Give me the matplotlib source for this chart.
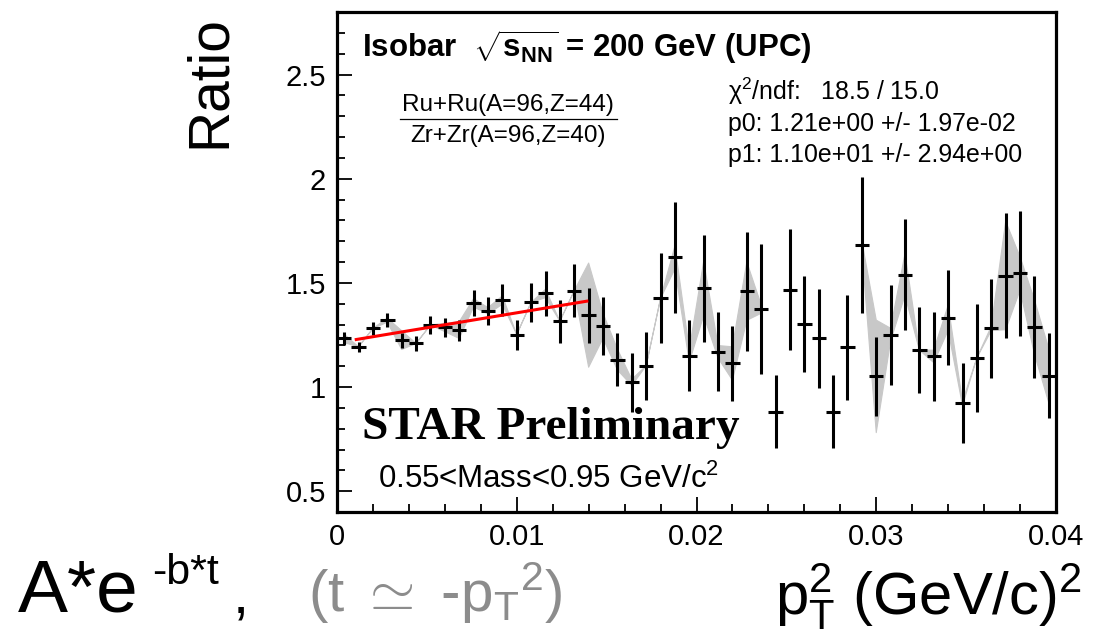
import numpy as np
import matplotlib
matplotlib.use("Agg")
import matplotlib.pyplot as plt
from matplotlib.ticker import MultipleLocator, FixedLocator, FixedFormatter
from matplotlib.lines import Line2D

plt.rcParams['font.family'] = ['Liberation Sans', 'DejaVu Sans']
plt.rcParams['mathtext.fontset'] = 'custom'
plt.rcParams['mathtext.rm'] = 'Liberation Sans'
plt.rcParams['mathtext.it'] = 'Liberation Sans'
plt.rcParams['mathtext.bf'] = 'Liberation Sans:bold'

# ---- data ----
pt2 = [0.0004, 0.0012, 0.0020, 0.0028, 0.0036, 0.0044, 0.0052, 0.0060, 0.0068, 0.0076,
       0.0084, 0.0092, 0.0100, 0.0108, 0.0116, 0.0124, 0.0132, 0.0140, 0.0148, 0.0156,
       0.0164, 0.0172, 0.0180, 0.0188, 0.0196, 0.0204, 0.0212, 0.0220, 0.0228, 0.0236,
       0.0244, 0.0252, 0.0260, 0.0268, 0.0276, 0.0284, 0.0292, 0.0300, 0.0308, 0.0316,
       0.0324, 0.0332, 0.0340, 0.0348, 0.0356, 0.0364, 0.0372, 0.0380, 0.0388, 0.0396]
pt2_halfwidth = 0.0004

ratio = [1.233, 1.193, 1.281, 1.321, 1.225, 1.209, 1.297, 1.286, 1.273, 1.404,
         1.366, 1.417, 1.252, 1.406, 1.449, 1.316, 1.462, 1.345, 1.294, 1.132,
         1.022, 1.102, 1.425, 1.622, 1.150, 1.473, 1.169, 1.113, 1.460, 1.374,
         0.881, 1.468, 1.302, 1.233, 0.881, 1.190, 1.680, 1.051, 1.252, 1.540,
         1.177, 1.147, 1.332, 0.921, 1.140, 1.281, 1.535, 1.545, 1.289, 1.054]

stat_err = [0.032, 0.024, 0.032, 0.034, 0.036, 0.035, 0.043, 0.046, 0.050, 0.062,
            0.066, 0.077, 0.072, 0.092, 0.108, 0.104, 0.128, 0.132, 0.140, 0.128,
            0.140, 0.164, 0.216, 0.268, 0.170, 0.258, 0.190, 0.182, 0.286, 0.312,
            0.176, 0.291, 0.230, 0.238, 0.176, 0.252, 0.326, 0.188, 0.240, 0.266,
            0.206, 0.214, 0.228, 0.192, 0.260, 0.238, 0.300, 0.302, 0.246, 0.204]

nan = float('nan')
sys_err = [0.020, 0.000, 0.000, 0.010, 0.045, 0.000, 0.000, 0.020, 0.040, 0.020,
           0.015, 0.020, 0.000, 0.000, 0.020, 0.000, 0.000, 0.250, 0.060, 0.050,
           0.015, 0.000, 0.000, 0.055, 0.030, 0.130, 0.030, 0.080, 0.140, 0.020,
           nan, nan, nan, nan, nan, nan, 0.020, 0.270, 0.030, 0.100,
           0.000, 0.030, 0.060, 0.010, 0.000, 0.010, 0.260, 0.080, 0.130, 0.130]

fit_x = [0.00107, 0.0139]
fit_y = [1.228, 1.412]

xticks = [0.0, 0.01, 0.02, 0.03, 0.04]
xtick_labels = ["0", "0.01", "0.02", "0.03", "0.04"]
yticks = [0.5, 1.0, 1.5, 2.0, 2.5]
ytick_labels = ["0.5", "1", "1.5", "2", "2.5"]

fit_lines = ["\u03c7$^{\\mathregular{2}}$/ndf:   18.5 / 15.0",
             "p0: 1.21e+00 +/- 1.97e-02",
             "p1: 1.10e+01 +/- 2.94e+00"]

# ---- figure ----
W, H = 1095, 636
fig = plt.figure(figsize=(W / 100, H / 100), dpi=100)

def fx(x):
    return x / W

def fy(y):
    return 1 - y / H

ax = fig.add_axes([fx(337), fy(512), (1056 - 337) / W, (512 - 12) / H])

x = np.array(pt2)
y = np.array(ratio)
s = np.array(sys_err)
ax.fill_between(x, y - s, y + s, color='#c8c8c8', edgecolor='#c8c8c8',
                linewidth=0.8, zorder=1)
ax.errorbar(x, y, yerr=stat_err, xerr=pt2_halfwidth, fmt='none', ecolor='black',
            elinewidth=2.2, capsize=0, zorder=2)
ax.plot(fit_x, fit_y, color='#ff0000', linewidth=2.2, zorder=3)

ax.set_xlim(0, 0.04)
ax.set_ylim(0.4, 2.8)
ax.xaxis.set_major_locator(FixedLocator(xticks))
ax.xaxis.set_major_formatter(FixedFormatter(xtick_labels))
ax.xaxis.set_minor_locator(MultipleLocator(0.002))
ax.yaxis.set_major_locator(FixedLocator(yticks))
ax.yaxis.set_major_formatter(FixedFormatter(ytick_labels))
ax.yaxis.set_minor_locator(MultipleLocator(0.1))
ax.tick_params(which='both', direction='in', top=False, right=False,
               labelsize=21, width=1.3, color='black')
ax.tick_params(which='major', length=11, pad=8)
ax.tick_params(which='minor', length=6)
for sp in ax.spines.values():
    sp.set_linewidth(2.3)

# ---- texts ----
fig.text(fx(210), fy(82), "Ratio", rotation=90, size=41, ha='center', va='center')

fig.text(fx(362), fy(57), r"Isobar  $\sqrt{\mathbf{s}_{\mathbf{NN}}}$ = 200 GeV (UPC)",
         size=22.5, weight='bold', va='baseline')

fig.text(fx(508), fy(111), "Ru+Ru(A=96,Z=44)", size=17.5, ha='center', va='baseline')
fig.add_artist(Line2D([fx(400), fx(617)], [fy(119), fy(119)], color='black',
                      linewidth=0.9, transform=fig.transFigure))
fig.text(fx(508), fy(142), "Zr+Zr(A=96,Z=40)", size=17.5, ha='center', va='baseline')

for i, line in enumerate(fit_lines):
    fig.text(fx(728), fy(100 + 31 * i), line, size=17.9, va='baseline')

fig.text(fx(362), fy(439), "STAR Preliminary", family='Liberation Serif',
         weight='bold', size=34, va='baseline')

fig.text(fx(378), fy(488), r"0.55<Mass<0.95 GeV/c$^{\mathregular{2}}$", size=22.5,
         va='baseline')

fig.text(fx(1082), fy(614), r"p$_{\mathregular{T}}^{\mathregular{2}}$ (GeV/c)$^{\mathregular{2}}$",
         size=43, ha='right', va='baseline')

fig.text(fx(18), fy(612), "A*e", size=54, va='baseline')
fig.text(fx(152), fy(584), "-b*t", size=31, va='baseline')
fig.text(fx(233), fy(612), ",", size=42, va='baseline')
fig.text(fx(308), fy(612), r"(t $\simeq$ -p$_{\mathregular{T}}$$^{\mathregular{2}}$)",
         size=42, color='#8c8c8c', va='baseline')

fig.savefig("out.png", dpi=100)
